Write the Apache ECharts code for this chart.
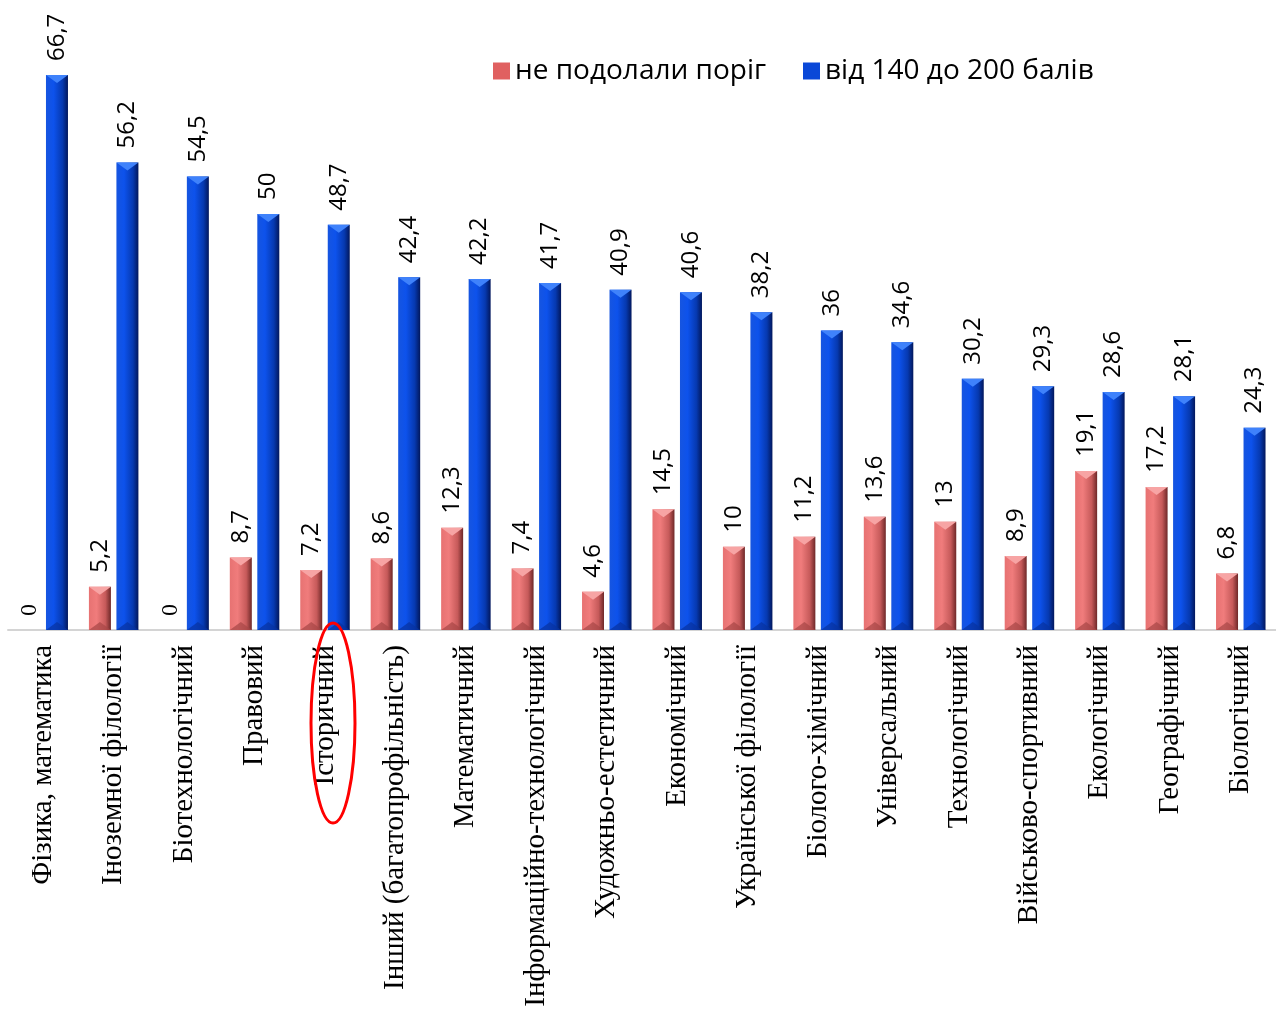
<!DOCTYPE html>
<html>
<head>
<meta charset="utf-8">
<script src="https://cdn.jsdelivr.net/npm/echarts@6/dist/echarts.min.js"></script>
<style>
html,body{margin:0;padding:0;background:#fff;}
#chart{width:1276px;height:1015px;}
</style>
</head>
<body>
<div id="chart"></div>
<script>
const categories = ['Фізика, математика', 'Іноземної філології', 'Біотехнологічний', 'Правовий', 'Історичний', 'Інший (багатопрофільність)', 'Математичний', 'Інформаційно-технологічний', 'Художньо-естетичний', 'Економічний', 'Української філології', 'Біолого-хімічний', 'Універсальний', 'Технологічний', 'Військово-спортивний', 'Екологічний', 'Географічний', 'Біологічний'];
const failedValues = [0, 5.2, 0, 8.7, 7.2, 8.6, 12.3, 7.4, 4.6, 14.5, 10, 11.2, 13.6, 13, 8.9, 19.1, 17.2, 6.8];
const highValues = [66.7, 56.2, 54.5, 50, 48.7, 42.4, 42.2, 41.7, 40.9, 40.6, 38.2, 36, 34.6, 30.2, 29.3, 28.6, 28.1, 24.3];
const seriesNames = ['не подолали поріг', 'від 140 до 200 балів'];
const highlighted = 'Історичний';

const chart = echarts.init(document.getElementById('chart'));
const fmt = v => String(v).replace('.', ',');

const BAR_W = 22, GAP = 5.5;
const offsets = [-(BAR_W + GAP) / 2, (BAR_W + GAP) / 2];

const redGrad = new echarts.graphic.LinearGradient(0, 0, 1, 0, [
  {offset: 0, color: '#e77272'}, {offset: 0.35, color: '#f07c7c'}, {offset: 0.75, color: '#c65a5a'}, {offset: 1, color: '#6e2828'}
]);
const blueGrad = new echarts.graphic.LinearGradient(0, 0, 1, 0, [
  {offset: 0, color: '#1655e0'}, {offset: 0.35, color: '#0d52ec'}, {offset: 0.75, color: '#0639b0'}, {offset: 1, color: '#02175c'}
]);
const bevelTop = ['#f7a4a4', '#3f82fb'];
const bevelBottom = ['#a64646', '#0732a0'];

function mkData(vals) {
  return vals.map(v => v === 0
    ? {value: v, label: {fontFamily: '"Liberation Serif", serif'}}
    : v);
}

const labelCfg = {
  show: true, position: 'top', rotate: 90, align: 'left', verticalAlign: 'middle',
  distance: 14, fontFamily: '"Open Sans", sans-serif', fontSize: 24, color: '#000',
  formatter: p => fmt(p.value)
};

function bevelSeries(vals, k) {
  return {
    type: 'custom', silent: true, z: 3,
    data: vals.map((v, i) => [i, v]),
    renderItem: (params, api) => {
      const v = api.value(1);
      if (!v) return null;
      const top = api.coord([api.value(0), v]);
      const base = api.coord([api.value(0), 0]);
      const cx = top[0] + offsets[k];
      const x0 = cx - BAR_W / 2, x1 = cx + BAR_W / 2;
      const d = 8;
      return {
        type: 'group', children: [
          {type: 'polygon', shape: {points: [[x0, top[1]], [x1, top[1]], [cx, top[1] + d]]},
           style: {fill: bevelTop[k]}},
          {type: 'polygon', shape: {points: [[x0, base[1]], [x1, base[1]], [cx, base[1] - d]]},
           style: {fill: bevelBottom[k], opacity: 0.7}}
        ]
      };
    }
  };
}

chart.setOption({
  animation: false,
  backgroundColor: '#fff',
  legend: {
    top: 52, left: 488, itemWidth: 17, itemHeight: 17, itemGap: 37,
    textStyle: {fontFamily: '"Open Sans", sans-serif', fontSize: 28, color: '#000'},
    data: [
      {name: seriesNames[0], icon: 'rect', itemStyle: {color: '#e06060'}},
      {name: seriesNames[1], icon: 'rect', itemStyle: {color: '#0a48d8'}}
    ]
  },
  grid: {left: 8, right: 0, top: 47.6, height: 582.4, containLabel: false, outerBoundsMode: 'none'},
  xAxis: {
    type: 'category', data: categories,
    axisLine: {lineStyle: {color: '#d4d4d4', width: 2}},
    axisTick: {show: false},
    axisLabel: {
      rotate: 90, interval: 0, margin: 15, fontFamily: '"Liberation Serif", serif', fontSize: 29, color: '#000'
    }
  },
  yAxis: {type: 'value', min: 0, max: 70, show: false, splitLine: {show: false}},
  series: [
    {name: seriesNames[0], type: 'bar', data: mkData(failedValues), barWidth: BAR_W, barGap: '25%',
     itemStyle: {color: redGrad}, label: labelCfg},
    {name: seriesNames[1], type: 'bar', data: mkData(highValues), barWidth: BAR_W, barGap: '25%',
     itemStyle: {color: blueGrad}, label: labelCfg},
    bevelSeries(failedValues, 0),
    bevelSeries(highValues, 1)
  ]
});

// red ellipse annotation around highlighted category label
const idx = categories.indexOf(highlighted);
const pt = chart.convertToPixel({xAxisIndex: 0}, idx);
const base = chart.convertToPixel({yAxisIndex: 0}, 0);
chart.setOption({
  graphic: [{
    type: 'ellipse', shape: {cx: pt + 8, cy: base + 93, rx: 22, ry: 100},
    style: {fill: 'none', stroke: '#ff0000', lineWidth: 3}, z: 10
  }]
});
</script>
</body>
</html>
